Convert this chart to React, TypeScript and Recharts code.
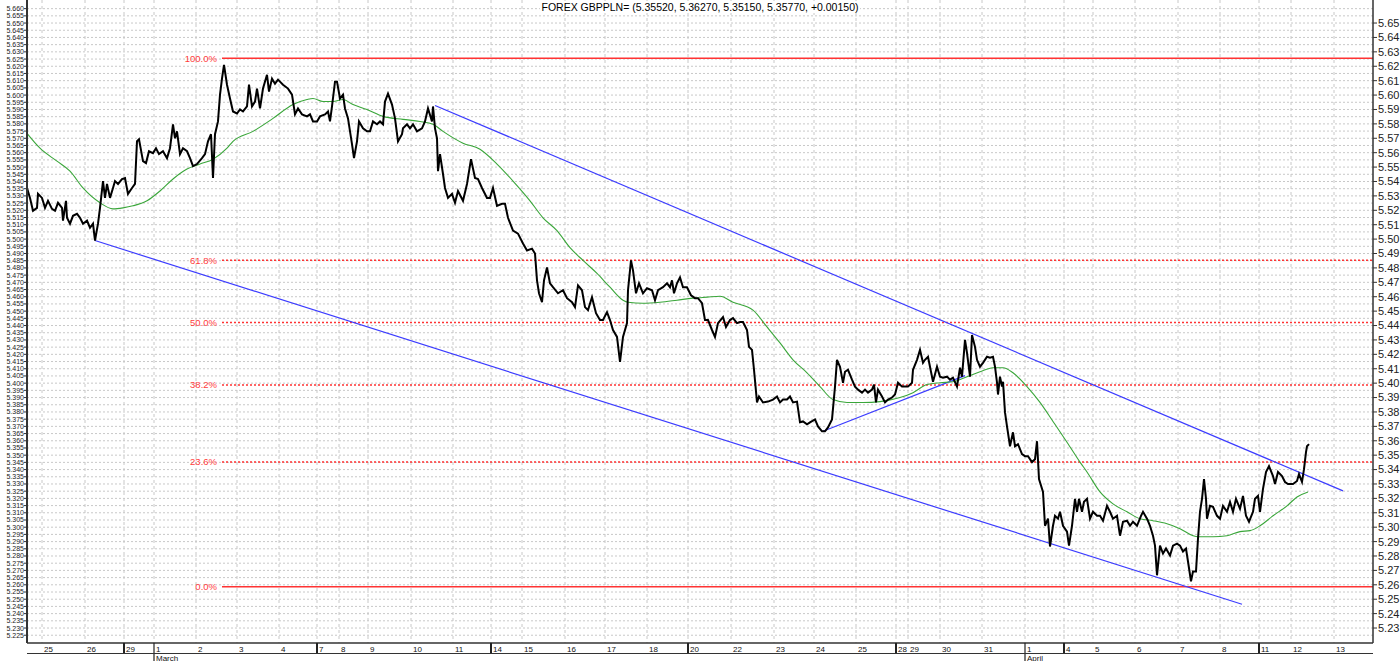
import React from "react";
import { LineChart, Line, XAxis, YAxis, CartesianGrid, ReferenceLine } from "recharts";

// hourly-ish bars counted from the left edge of the plot, price
const closeSeries: [number, number][] = [
  [0, 5.5355], [3, 5.5286], [6, 5.5197], [10, 5.5217], [11, 5.5314], [15, 5.5286], [18, 5.5217], [21, 5.5266],
  [25, 5.521], [28, 5.5197], [31, 5.5252], [35, 5.5217], [36, 5.5128], [39, 5.5266], [40, 5.5148], [43, 5.5107],
  [46, 5.5162], [50, 5.5176], [53, 5.5148], [56, 5.5107], [60, 5.5128], [63, 5.5079], [66, 5.5107], [68, 5.499],
  [71, 5.5107], [73, 5.5217], [76, 5.5403], [78, 5.5286], [80, 5.5383], [83, 5.5286], [86, 5.5355], [88, 5.5403],
  [91, 5.5383], [95, 5.5417], [98, 5.5424], [101, 5.5314], [105, 5.5355], [108, 5.5383], [110, 5.5679], [112, 5.5693],
  [116, 5.5541], [119, 5.5528], [122, 5.561], [126, 5.5597], [129, 5.5631], [132, 5.559], [136, 5.561], [140, 5.5562],
  [143, 5.5631], [146, 5.5797], [148, 5.57], [150, 5.5748], [153, 5.559], [156, 5.5631], [160, 5.561], [163, 5.5562],
  [166, 5.5507], [170, 5.5521], [175, 5.5562], [178, 5.559], [181, 5.5679], [184, 5.5728], [186, 5.5424], [188, 5.5728],
  [191, 5.5817], [193, 5.6003], [195, 5.6114], [197, 5.621], [200, 5.6072], [203, 5.5976], [206, 5.5886], [210, 5.5872],
  [213, 5.59], [216, 5.5886], [220, 5.5921], [222, 5.6072], [225, 5.5921], [228, 5.5955], [230, 5.6045], [233, 5.5907],
  [236, 5.6045], [240, 5.6141], [242, 5.6024], [245, 5.6114], [248, 5.6079], [251, 5.6107], [256, 5.6072], [261, 5.6045],
  [265, 5.6003], [268, 5.5866], [271, 5.5907], [275, 5.5866], [280, 5.5852], [283, 5.5866], [286, 5.5817], [290, 5.5817],
  [293, 5.5852], [298, 5.5866], [301, 5.5886], [303, 5.5817], [305, 5.5921], [308, 5.6093], [310, 5.6093], [313, 5.5976],
  [316, 5.6003], [318, 5.5907], [321, 5.5838], [325, 5.5659], [327, 5.5562], [330, 5.5679], [332, 5.5817], [336, 5.5769],
  [340, 5.5748], [343, 5.5748], [346, 5.5817], [350, 5.5797], [353, 5.5817], [356, 5.5797], [358, 5.5955], [361, 5.601],
  [365, 5.5934], [368, 5.5838], [371, 5.5679], [375, 5.5728], [376, 5.5769], [380, 5.5797], [383, 5.5769], [386, 5.5797],
  [390, 5.5748], [395, 5.5769], [398, 5.5817], [401, 5.5907], [405, 5.5817], [406, 5.5921], [408, 5.5769], [410, 5.57],
  [411, 5.5472], [413, 5.559], [416, 5.5452], [418, 5.5355], [421, 5.5286], [425, 5.5314], [428, 5.5252], [431, 5.5334],
  [436, 5.5266], [440, 5.5383], [444, 5.5555], [448, 5.5424], [451, 5.5417], [455, 5.5355], [460, 5.5286], [463, 5.5286],
  [466, 5.5355], [470, 5.5231], [475, 5.5245], [478, 5.5245], [481, 5.5148], [486, 5.5059], [491, 5.5038], [496, 5.4969],
  [500, 5.4921], [505, 5.4934], [508, 5.49], [510, 5.4714], [512, 5.4624], [515, 5.4562], [517, 5.4714], [520, 5.4803],
  [523, 5.4693], [526, 5.4666], [531, 5.4624], [536, 5.4645], [540, 5.459], [545, 5.4562], [548, 5.4528], [551, 5.4679],
  [555, 5.4645], [558, 5.4528], [561, 5.4507], [565, 5.4597], [569, 5.4486], [573, 5.4438], [576, 5.4438], [580, 5.4493],
  [583, 5.4438], [586, 5.4369], [590, 5.4321], [593, 5.4148], [596, 5.4321], [600, 5.4417], [601, 5.4645], [604, 5.4852],
  [606, 5.4783], [609, 5.4624], [612, 5.4693], [616, 5.4624], [620, 5.4659], [625, 5.4645], [628, 5.4576], [631, 5.4645],
  [636, 5.4666], [640, 5.4693], [643, 5.4666], [645, 5.4714], [647, 5.4624], [650, 5.4693], [653, 5.4734], [656, 5.4666],
  [660, 5.4666], [664, 5.461], [668, 5.459], [671, 5.459], [675, 5.4555], [678, 5.4438], [681, 5.4438], [685, 5.4369],
  [688, 5.4321], [691, 5.4417], [696, 5.4459], [699, 5.439], [703, 5.4438], [706, 5.4452], [710, 5.4417], [713, 5.4424],
  [716, 5.4424], [720, 5.4369], [722, 5.4252], [725, 5.4231], [727, 5.4093], [730, 5.3866], [732, 5.3907], [736, 5.3866],
  [741, 5.3872], [746, 5.3886], [750, 5.3907], [753, 5.3866], [756, 5.3886], [760, 5.3886], [763, 5.3907], [766, 5.3866],
  [770, 5.3872], [773, 5.3728], [776, 5.3734], [780, 5.3714], [783, 5.3728], [788, 5.3748], [791, 5.37], [795, 5.3666],
  [798, 5.3666], [801, 5.3693], [805, 5.3748], [808, 5.3976], [810, 5.4162], [813, 5.4114], [816, 5.4003], [818, 5.4079],
  [821, 5.4093], [825, 5.4024], [828, 5.3976], [831, 5.3955], [835, 5.3934], [838, 5.3955], [841, 5.3934], [845, 5.3955],
  [847, 5.399], [849, 5.3866], [851, 5.3955], [855, 5.3907], [858, 5.3866], [861, 5.3886], [865, 5.39], [868, 5.3921],
  [871, 5.4003], [875, 5.3976], [878, 5.3976], [881, 5.3976], [885, 5.4003], [886, 5.4093], [890, 5.4162], [893, 5.4231],
  [896, 5.4141], [898, 5.4162], [901, 5.4183], [904, 5.4079], [906, 5.401], [910, 5.4114], [913, 5.4045], [916, 5.4038],
  [920, 5.4045], [923, 5.4024], [926, 5.4038], [930, 5.3976], [933, 5.4107], [935, 5.4045], [938, 5.43], [940, 5.421],
  [943, 5.4045], [945, 5.4334], [948, 5.4252], [950, 5.4162], [953, 5.4114], [956, 5.4141], [960, 5.4183], [963, 5.4176],
  [966, 5.4183], [968, 5.4114], [970, 5.4003], [971, 5.3921], [973, 5.4045], [975, 5.3976], [976, 5.401], [978, 5.3797],
  [980, 5.37], [983, 5.3562], [986, 5.3659], [988, 5.3562], [991, 5.3576], [995, 5.3507], [998, 5.3493], [1001, 5.3493],
  [1005, 5.3452], [1008, 5.3472], [1010, 5.3597], [1012, 5.3334], [1016, 5.3245], [1018, 5.301], [1021, 5.3059], [1023, 5.2866],
  [1026, 5.301], [1028, 5.3079], [1031, 5.3059], [1033, 5.3107], [1036, 5.301], [1040, 5.2969], [1042, 5.2872], [1045, 5.301],
  [1048, 5.3197], [1050, 5.3107], [1052, 5.3197], [1055, 5.3107], [1057, 5.3176], [1060, 5.3197], [1063, 5.3059], [1066, 5.3107],
  [1070, 5.3079], [1073, 5.3079], [1076, 5.3045], [1080, 5.3148], [1083, 5.3107], [1086, 5.3059], [1090, 5.3079], [1093, 5.2941],
  [1096, 5.3038], [1100, 5.3045], [1103, 5.301], [1106, 5.3038], [1110, 5.301], [1114, 5.3079], [1116, 5.3107], [1120, 5.3059],
  [1123, 5.301], [1126, 5.2941], [1128, 5.2872], [1130, 5.2666], [1133, 5.2872], [1136, 5.2817], [1139, 5.2852], [1143, 5.2803],
  [1146, 5.2872], [1150, 5.2886], [1153, 5.2872], [1156, 5.2831], [1159, 5.2852], [1161, 5.2762], [1164, 5.2624], [1166, 5.2693],
  [1169, 5.2693], [1171, 5.2921], [1173, 5.3107], [1175, 5.3197], [1177, 5.3334], [1179, 5.3197], [1180, 5.3059], [1183, 5.3148],
  [1186, 5.3141], [1190, 5.3079], [1193, 5.3059], [1196, 5.3148], [1200, 5.3107], [1203, 5.3176], [1206, 5.3107], [1209, 5.3197],
  [1213, 5.3128], [1216, 5.3217], [1219, 5.3079], [1222, 5.3038], [1226, 5.3107], [1228, 5.3197], [1231, 5.3217], [1233, 5.3107],
  [1236, 5.3266], [1239, 5.3383], [1242, 5.3424], [1246, 5.3355], [1248, 5.33], [1251, 5.3383], [1255, 5.3355], [1258, 5.3314],
  [1261, 5.33], [1266, 5.33], [1270, 5.3321], [1272, 5.3369], [1275, 5.3314], [1277, 5.3403], [1279, 5.3521], [1280, 5.3562],
  [1282, 5.3577],
];

// moving average (green)
const maSeries: [number, number][] = [
  [0, 5.5734], [13, 5.5631], [30, 5.5541], [43, 5.5472], [56, 5.5355], [73, 5.5252], [86, 5.521], [96, 5.5217],
  [106, 5.5231], [120, 5.5266], [133, 5.5334], [146, 5.5417], [160, 5.5486], [173, 5.5521], [186, 5.5555], [200, 5.5631],
  [206, 5.5679], [226, 5.5748], [246, 5.5838], [266, 5.5934], [280, 5.5969], [286, 5.5976], [296, 5.5955], [306, 5.5955],
  [316, 5.5969], [326, 5.5934], [340, 5.59], [356, 5.5852], [376, 5.5831], [393, 5.5817], [406, 5.5797], [416, 5.5748],
  [436, 5.5666], [453, 5.5624], [470, 5.5521], [486, 5.5403], [503, 5.5266], [516, 5.5148], [530, 5.5059], [543, 5.4941],
  [556, 5.4852], [570, 5.4762], [583, 5.4666], [596, 5.4576], [601, 5.4562], [616, 5.4555], [633, 5.4562], [650, 5.4576],
  [666, 5.459], [680, 5.4597], [693, 5.4603], [706, 5.4562], [726, 5.4507], [740, 5.439], [753, 5.4279], [766, 5.4162],
  [780, 5.4072], [793, 5.3976], [806, 5.3886], [820, 5.3866], [836, 5.3866], [853, 5.3872], [873, 5.39], [886, 5.3934],
  [900, 5.399], [913, 5.4003], [926, 5.401], [940, 5.4045], [953, 5.4079], [966, 5.4107], [976, 5.4107], [986, 5.4072],
  [1000, 5.3976], [1013, 5.3866], [1026, 5.3734], [1040, 5.359], [1053, 5.3452], [1060, 5.3383], [1073, 5.3245], [1086, 5.3162],
  [1100, 5.3107], [1113, 5.3059], [1126, 5.3045], [1140, 5.3024], [1153, 5.299], [1166, 5.2941], [1171, 5.2934], [1186, 5.2934],
  [1200, 5.2941], [1213, 5.2969], [1223, 5.2976], [1233, 5.301], [1246, 5.3079], [1260, 5.3148], [1270, 5.321], [1281, 5.3245],
];

// trend lines (blue)
const lowerChannel: [number, number][] = [[68, 5.499], [1215, 5.2465]];
const upperChannel: [number, number][] = [[408, 5.5928], [1316, 5.3252]];
const risingSupport: [number, number][] = [[796, 5.3666], [938, 5.4052]];

// fibonacci retracement
const fibLevels = [5.6255, 5.4854, 5.4421, 5.3988, 5.3453, 5.2587];
const fibLabels = ["100.0%", "61.8%", "50.0%", "38.2%", "23.6%", "0.0%"];
const fibSolid = [true, false, false, false, false, true];
const fibStartBar = 195;

const lastBar = 1346;
const yMin = 5.2196;
const yMax = 5.666;

// day gridlines / labels
const dayTicks = [15, 58, 97, 127, 169, 210, 252, 290, 312, 341, 384, 426, 464, 495, 538, 578, 620, 661, 704, 747, 787, 829, 869, 881, 913, 955, 998, 1037, 1066, 1108, 1151, 1193, 1232, 1264, 1307];
const dayLabels = ["25", "26", "29", "1", "2", "3", "4", "7", "8", "9", "10", "11", "14", "15", "16", "17", "18", "20", "22", "23", "24", "25", "28", "29", "30", "31", "1", "4", "5", "6", "7", "8", "11", "12", "13"];
const weekStarts = [97, 290, 464, 661, 869, 1037, 1232];
const monthStarts = [
  { bar: 127, label: "March" },
  { bar: 998, label: "April" },
];

const leftTicks = Array.from({ length: 88 }, (_, i) => (5225 + i * 5) / 1000);
const rightTicks = Array.from({ length: 43 }, (_, i) => (523 + i) / 100);

const toPoints = (s: [number, number][]) => s.map(([bar, v]) => ({ bar, v }));

function DayTick(props: any) {
  const { x, y, payload } = props;
  const i = dayTicks.indexOf(payload.value);
  const month = monthStarts.find((m) => m.bar === payload.value);
  const week = weekStarts.includes(payload.value);
  return (
    <g>
      {month && <line x1={x} y1={y} x2={x} y2={y + 18} stroke="#222" strokeWidth={1.2} />}
      {week && <line x1={x} y1={y} x2={x} y2={y + 10} stroke="#222" strokeWidth={2} />}
      <text x={x + 2} y={y + 8.5} fontSize={8} fill="#111">
        {dayLabels[i]}
      </text>
      {month && (
        <text x={x + 2} y={y + 17.5} fontSize={8} fill="#111">
          {month.label}
        </text>
      )}
    </g>
  );
}

export default function App() {
  return (
    <div style={{ position: "absolute", left: 0, top: 0, width: 1400, height: 661, background: "#fff", fontFamily: "'Liberation Sans', Arial, sans-serif" }}>
      <LineChart width={1400} height={661} margin={{ top: 0, right: 0, bottom: 0, left: 0 }}>
        <CartesianGrid yAxisId="L" horizontal vertical={false} horizontalValues={leftTicks} stroke="#c8c8c8" strokeDasharray="2 2" />
        <CartesianGrid yAxisId="L" vertical horizontal={false} verticalValues={dayTicks} stroke="#c8c8c8" strokeDasharray="3 3" />
        <XAxis
          type="number"
          dataKey="bar"
          domain={[0, lastBar]}
          ticks={dayTicks}
          interval={0}
          height={18}
          tickSize={0}
          tickMargin={0}
          tick={<DayTick />}
          axisLine={{ stroke: "#333", strokeWidth: 1.5 }}
          allowDataOverflow
        />
        <YAxis
          yAxisId="L"
          orientation="left"
          width={27}
          domain={[yMin, yMax]}
          ticks={leftTicks}
          interval={0}
          allowDataOverflow
          tickSize={3}
          tickMargin={0}
          tickFormatter={(v: number) => v.toFixed(3)}
          tick={{ fontSize: 7, fill: "#222" }}
          axisLine={{ stroke: "#333", strokeWidth: 2 }}
          tickLine={{ stroke: "#333" }}
        />
        <YAxis
          yAxisId="R"
          orientation="right"
          width={27}
          domain={[yMin, yMax]}
          ticks={rightTicks}
          interval={0}
          allowDataOverflow
          tickSize={4}
          tickMargin={1}
          tickFormatter={(v: number) => v.toFixed(2)}
          tick={{ fontSize: 11, fill: "#222", textAnchor: "start" }}
          axisLine={{ stroke: "#333", strokeWidth: 1.5 }}
          tickLine={{ stroke: "#333" }}
        />
        {fibLevels.map((lvl, i) => (
          <ReferenceLine
            key={fibLabels[i]}
            yAxisId="R"
            segment={[{ x: fibStartBar, y: lvl }, { x: lastBar, y: lvl }]}
            stroke="#ff3333"
            strokeWidth={1.5}
            strokeDasharray={fibSolid[i] ? undefined : "2 2"}
            label={{ value: fibLabels[i], position: "left", fill: "#ff3b3b", fontSize: 9.5, offset: 5 }}
          />
        ))}
        <Line yAxisId="R" data={toPoints(lowerChannel)} dataKey="v" stroke="#3c3cff" strokeWidth={1.2} dot={false} isAnimationActive={false} />
        <Line yAxisId="R" data={toPoints(upperChannel)} dataKey="v" stroke="#3c3cff" strokeWidth={1.2} dot={false} isAnimationActive={false} />
        <Line yAxisId="R" data={toPoints(risingSupport)} dataKey="v" stroke="#3c3cff" strokeWidth={1.2} dot={false} isAnimationActive={false} />
        <Line yAxisId="R" type="monotone" data={toPoints(maSeries)} dataKey="v" stroke="#3aa63a" strokeWidth={1.1} dot={false} isAnimationActive={false} />
        <Line yAxisId="R" type="linear" data={toPoints(closeSeries)} dataKey="v" stroke="#000" strokeWidth={2} dot={false} isAnimationActive={false} />
      </LineChart>
      <div style={{ position: "absolute", left: 27, top: 653, width: 1346, height: 1, background: "#333" }} />
      <div style={{ position: "absolute", left: 0, top: 0, width: 1400, textAlign: "center", fontSize: 10.5, lineHeight: "14px" }}>
        <span style={{ background: "#fff", padding: "0 2px" }}>FOREX GBPPLN= (5.35520, 5.36270, 5.35150, 5.35770, +0.00150)</span>
      </div>
    </div>
  );
}
